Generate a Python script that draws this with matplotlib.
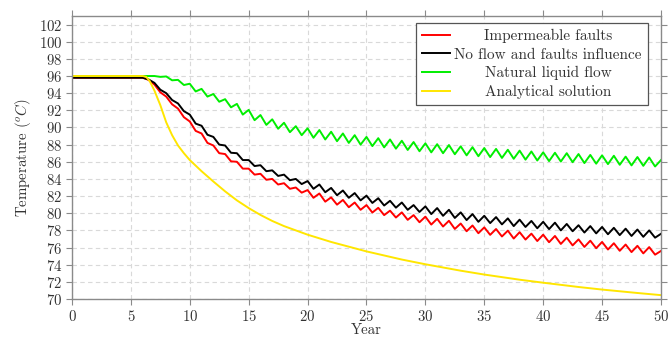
import numpy as np
import matplotlib
matplotlib.use("Agg")
import matplotlib.pyplot as plt

plt.rcParams["font.family"] = ["cmr10", "DejaVu Serif"]
plt.rcParams["mathtext.fontset"] = "cm"
plt.rcParams["axes.formatter.use_mathtext"] = True
plt.rcParams["font.size"] = 10.7

# sample times (years) for the oscillating curves: 0, then every half year from 6
years = np.concatenate([[0.0], np.arange(6.0, 50.5, 0.5)])

impermeable = [
    95.8,
    95.8, 95.55, 95.0, 94.1, 93.6, 92.7, 92.2, 91.2,
    90.7, 89.6, 89.3, 88.2, 87.9, 87.0, 86.9, 86.05, 86.0, 85.2,
    85.2, 84.5, 84.6, 83.9, 84.0, 83.35, 83.5, 82.85, 83.0, 82.4,
    82.7, 81.8, 82.3, 81.35, 81.85, 81.0, 81.55, 80.7, 81.25, 80.4,
    80.95, 80.08, 80.63, 79.78, 80.3, 79.5, 80.1, 79.23, 79.78, 78.95,
    79.6, 78.68, 79.35, 78.45, 79.12, 78.17, 78.8, 77.9, 78.57, 77.67,
    78.35, 77.48, 78.16, 77.29, 77.97, 77.05, 77.79, 76.93, 77.62, 76.76,
    77.5, 76.62, 77.35, 76.42, 77.15, 76.25, 76.95, 76.07, 76.8, 75.92,
    76.65, 75.77, 76.5, 75.62, 76.35, 75.47, 76.2, 75.32, 76.05, 75.17,
    75.6,
]

no_flow = [
    95.8,
    95.8, 95.6, 95.2, 94.4, 94.0, 93.2, 92.8, 91.9,
    91.5, 90.45, 90.2, 89.15, 88.9, 88.0, 87.9, 87.05, 87.0, 86.2,
    86.2, 85.5, 85.6, 84.9, 85.0, 84.35, 84.5, 83.85, 84.0, 83.4,
    83.75, 82.85, 83.35, 82.45, 82.95, 82.1, 82.65, 81.8, 82.35, 81.5,
    82.05, 81.2, 81.75, 80.9, 81.45, 80.65, 81.25, 80.4, 80.95, 80.15,
    80.8, 79.9, 80.6, 79.7, 80.4, 79.45, 80.1, 79.2, 79.9, 79.0,
    79.7, 78.85, 79.55, 78.7, 79.4, 78.5, 79.25, 78.4, 79.1, 78.25,
    79.0, 78.15, 78.9, 78.0, 78.75, 77.9, 78.6, 77.75, 78.5, 77.65,
    78.4, 77.55, 78.3, 77.45, 78.2, 77.35, 78.1, 77.25, 78.0, 77.15,
    77.6,
]

natural_flow = [
    96.0,
    96.0, 96.0, 96.0, 95.9, 95.95, 95.5, 95.55, 94.95,
    95.1, 94.2, 94.5, 93.6, 93.9, 93.0, 93.3, 92.35, 92.75, 91.5,
    92.05, 90.85, 91.45, 90.3, 90.95, 89.85, 90.55, 89.45, 90.15, 89.1,
    89.9, 88.8, 89.7, 88.6, 89.5, 88.4, 89.3, 88.2, 89.1, 88.0,
    88.9, 87.83, 88.75, 87.68, 88.6, 87.53, 88.45, 87.38, 88.3, 87.23,
    88.15, 87.1, 88.05, 87.0, 87.95, 86.88, 87.8, 86.75, 87.7, 86.65,
    87.6, 86.55, 87.5, 86.45, 87.4, 86.35, 87.3, 86.25, 87.2, 86.15,
    87.1, 86.08, 87.05, 86.03, 87.0, 85.95, 86.9, 85.85, 86.8, 85.78,
    86.75, 85.73, 86.7, 85.65, 86.6, 85.58, 86.55, 85.53, 86.5, 85.45,
    86.2,
]

analytical_years = [0, 6.0, 6.3, 6.6, 7.0, 7.5, 8.0, 8.5, 9.0, 9.5, 10, 11, 12, 13,
                    14, 15, 16, 17, 18, 20, 22, 25, 28, 30, 33, 35, 38, 40, 43,
                    45, 48, 50]
analytical = [96.0, 96.0, 95.9, 95.4, 94.3, 92.6, 90.6, 89.1, 87.9, 87.0, 86.2,
              84.9, 83.7, 82.55, 81.5, 80.6, 79.8, 79.1, 78.5, 77.5, 76.65,
              75.55, 74.6, 74.05, 73.3, 72.85, 72.25, 71.9, 71.4, 71.1, 70.7,
              70.45]

labels = ["Impermeable faults", "No flow and faults influence",
          "Natural liquid flow", "Analytical solution"]
colors = ["#ff0000", "#000000", "#00ee00", "#ffe600"]

fig = plt.figure(figsize=(6.69, 3.40), dpi=100)
ax = fig.add_axes([0.1076, 0.1206, 0.8804, 0.8324])

series = [(years, impermeable), (years, no_flow), (years, natural_flow),
          (analytical_years, analytical)]
for (x, y), lab, c in zip(series, labels, colors):
    ax.plot(x, y, color=c, lw=1.4, label=lab, solid_joinstyle="round")

ax.set_xlim(0, 50)
ax.set_ylim(70, 103)
ax.set_xticks(np.arange(0, 51, 5))
ax.set_yticks(np.arange(70, 103, 2))

ax.grid(True, ls=(0, (4, 3)), color="#d9d9d9", lw=0.8)
ax.set_axisbelow(True)
for s in ax.spines.values():
    s.set_color("#8a8a8a")
    s.set_linewidth(1.0)
ax.tick_params(direction="out", length=4, width=0.8, color="#8a8a8a",
               labelcolor="#333333", top=True, right=True, pad=3)

ax.set_xlabel("Year", color="#333333", labelpad=0)
ax.set_ylabel(r"Temperature ($^oC$)", color="#333333", labelpad=4)

leg = ax.legend(loc="upper right", bbox_to_anchor=(0.978, 0.975),
                fancybox=False, edgecolor="#555555", framealpha=1,
                fontsize=11, handlelength=1.8, labelspacing=0.3,
                borderpad=0.4, handletextpad=0.3, borderaxespad=0)
leg.get_frame().set_linewidth(0.9)
for t in leg.get_texts():
    t.set_color("#333333")

# centre the label texts inside the legend column
renderer = fig.canvas.get_renderer()
widths = [t.get_window_extent(renderer).width for t in leg.get_texts()]
for t, w in zip(leg.get_texts(), widths):
    t.set_position(((max(widths) - w) / 2, 0))

fig.savefig("out.png", dpi=100)
